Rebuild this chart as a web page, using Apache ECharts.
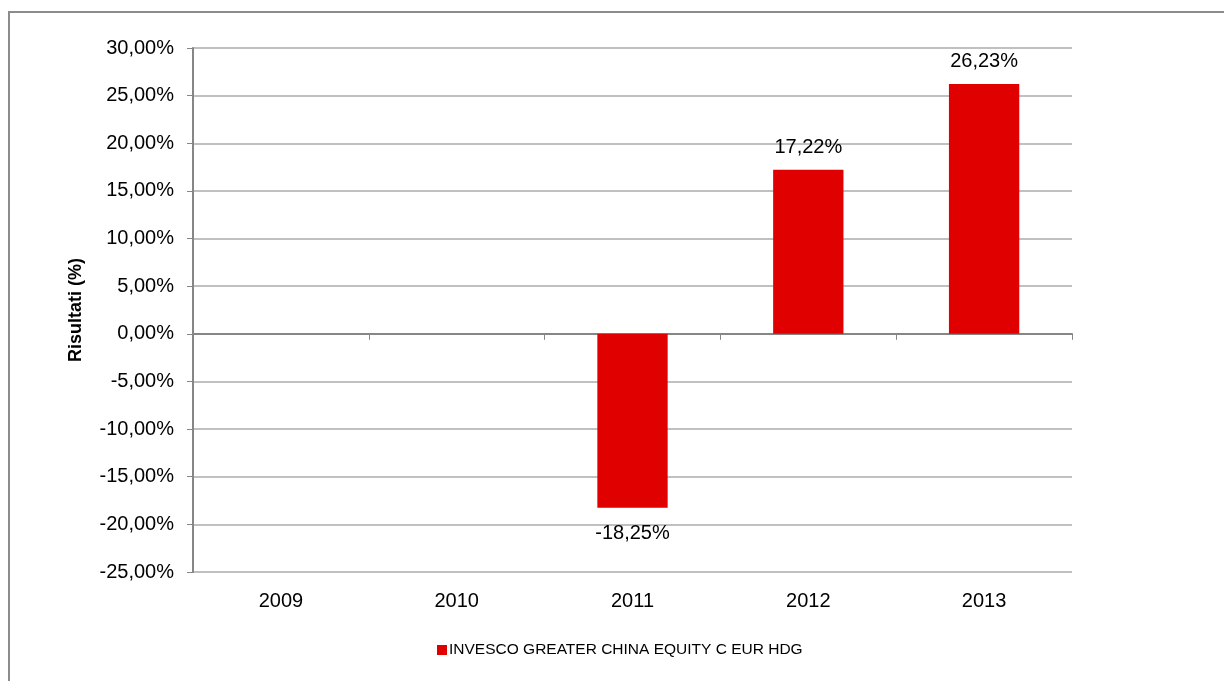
<!DOCTYPE html>
<html>
<head>
<meta charset="utf-8">
<script src="https://cdn.jsdelivr.net/npm/echarts@6/dist/echarts.min.js"></script>
<style>html,body{margin:0;padding:0;background:#fff;}#c{width:1224px;height:681px;}</style>
</head>
<body>
<div id="c"></div>
<script>
const categories = ['2009', '2010', '2011', '2012', '2013'];
const seriesName = 'INVESCO GREATER CHINA EQUITY C EUR HDG';
const values = [null, null, -18.25, 17.22, 26.23];
const yMin = -25, yMax = 30, yStep = 5;

const fmt = v => v.toFixed(2).replace('.', ',') + '%';
const FONT = 'Liberation Sans, Arial, sans-serif';

const chart = echarts.init(document.getElementById('c'), null, {renderer: 'canvas'});
chart.setOption({
  animation: false,
  backgroundColor: '#fff',
  graphic: [{
    type: 'rect', shape: {x: 9, y: 12, width: 1240, height: 700},
    style: {fill: 'none', stroke: '#8c8c8c', lineWidth: 2}, silent: true
  }],
  grid: {left: 193, right: 152, top: 48, bottom: 109},
  legend: {
    data: [seriesName], top: 637, left: 432, itemWidth: 10, itemHeight: 10, itemGap: 2,
    icon: 'rect',
    textStyle: {fontFamily: FONT, fontSize: 15.5, color: '#000', padding: [0,0,0,-3]}
  },
  xAxis: [{
    type: 'category', data: categories, position: 'bottom',
    axisLine: {show: false, onZero: false}, axisTick: {show: false},
    axisLabel: {fontFamily: FONT, fontSize: 20, color: '#000', margin: 19}
  }, {
    type: 'category', data: categories, position: 'bottom',
    axisLine: {show: true, onZero: true, lineStyle: {color: '#868686', width: 2}},
    axisTick: {show: true, length: 6, lineStyle: {color: '#868686', width: 1}},
    axisLabel: {show: false}, splitLine: {show: false}
  }],
  yAxis: {
    type: 'value', min: yMin, max: yMax, interval: yStep,
    name: 'Risultati (%)', nameLocation: 'middle', nameGap: 108, nameRotate: 90,
    nameTextStyle: {fontFamily: FONT, fontSize: 18, fontWeight: 'bold', color: '#000'},
    axisLine: {show: true, lineStyle: {color: '#868686', width: 2}},
    axisTick: {show: true, length: 6, lineStyle: {color: '#868686'}},
    axisLabel: {fontFamily: FONT, fontSize: 20, color: '#000', margin: 19, formatter: fmt},
    splitLine: {show: true, lineStyle: {color: '#c0c0c0', width: 2}}
  },
  series: [{
    name: seriesName, type: 'bar', xAxisIndex: 0, barWidth: '40%',
    itemStyle: {color: '#E00000'},
    data: values.map(v => v === null ? null : {
      value: v,
      label: {show: true, position: v < 0 ? 'bottom' : 'top', distance: v < 0 ? 16 : 12,
              fontFamily: FONT, fontSize: 20, color: '#000', formatter: p => fmt(p.value)}
    })
  }]
});
</script>
</body>
</html>
